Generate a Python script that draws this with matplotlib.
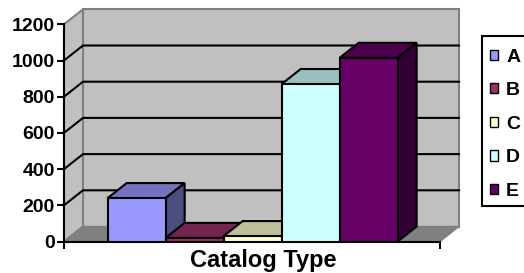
import matplotlib
matplotlib.use('Agg')
import matplotlib.pyplot as plt
from matplotlib.patches import Polygon, Patch, Rectangle

plt.rcParams['font.family'] = ['Liberation Sans', 'DejaVu Sans']
plt.rcParams['font.weight'] = 'bold'

categories = ['A', 'B', 'C', 'D', 'E']
values = [240, 20, 30, 870, 1015]
front_colors = ['#9999FF', '#993366', '#FFFFCC', '#CCFFFF', '#660066']
y_ticks = [0, 200, 400, 600, 800, 1000, 1200]
x_label = 'Catalog Type'


def shade(hex_color, f):
    r, g, b = matplotlib.colors.to_rgb(hex_color)
    return (r * f, g * f, b * f)


W, H = 524, 273
fig = plt.figure(figsize=(W / 100, H / 100), dpi=100)
ax_l, ax_r, ax_t, ax_b = 64, 440, 24.3, 241.5
ax = fig.add_axes([ax_l / W, (H - ax_b) / H, (ax_r - ax_l) / W, (ax_b - ax_t) / H])
ax.patch.set_visible(False)

xmin, xmax = -1.253, 5.23
ymin, ymax = 0, 1200
ax.set_xlim(xmin, xmax)
ax.set_ylim(ymin, ymax)

# depth offset (pixels -> data units)
ddx = 19 * (xmax - xmin) / (ax_r - ax_l)
ddy = 15 * (ymax - ymin) / (ax_b - ax_t)

# walls and floor
back = Polygon([(xmin + ddx, ddy), (xmax + ddx, ddy), (xmax + ddx, ymax + ddy), (xmin + ddx, ymax + ddy)],
               closed=True, facecolor='#C0C0C0', edgecolor='#808080', lw=1.5, clip_on=False, zorder=0)
side = Polygon([(xmin, 0), (xmin + ddx, ddy), (xmin + ddx, ymax + ddy), (xmin, ymax)],
               closed=True, facecolor='#C0C0C0', edgecolor='#808080', lw=1.5, clip_on=False, zorder=0)
floor = Polygon([(xmin, 0), (xmax, 0), (xmax + ddx, ddy), (xmin + ddx, ddy)],
                closed=True, facecolor='#808080', edgecolor='#808080', lw=1, clip_on=False, zorder=1)
for p in (back, side, floor):
    ax.add_patch(p)

for v in y_ticks[1:-1]:
    ax.plot([xmin, xmin + ddx, xmax + ddx], [v, v + ddy, v + ddy], color='black', lw=1.5,
            clip_on=False, zorder=1)

# bars with top and side faces
for i, (v, c) in enumerate(zip(values, front_colors)):
    z = 3 + i
    ax.bar(i, v, width=1.0, color=c, edgecolor='black', lw=1.5, zorder=z + 0.5)
    x0, x1 = i - 0.5, i + 0.5
    top = Polygon([(x0, v), (x1, v), (x1 + ddx, v + ddy), (x0 + ddx, v + ddy)], closed=True,
                  facecolor=shade(c, 0.75), edgecolor='black', lw=1.5, clip_on=False, zorder=z)
    sd = Polygon([(x1, 0), (x1 + ddx, ddy), (x1 + ddx, v + ddy), (x1, v)], closed=True,
                 facecolor=shade(c, 0.5), edgecolor='black', lw=1.5, clip_on=False, zorder=z)
    ax.add_patch(top)
    ax.add_patch(sd)

for s in ('top', 'right'):
    ax.spines[s].set_visible(False)
for s in ('left', 'bottom'):
    ax.spines[s].set_linewidth(1.5)
    ax.spines[s].set_zorder(2)

ax.set_yticks(y_ticks)
ax.set_yticklabels([str(t) for t in y_ticks], fontsize=14, fontweight='bold')
ax.set_xticks([xmin, xmax])
ax.set_xticklabels([])
ax.tick_params(axis='both', length=5, width=1.5, pad=1.5, direction='out')

fig.text(263 / W, (H - 267) / H, x_label, ha='center', va='baseline', fontsize=17, fontweight='bold')

# legend box runs past the right edge, as in the original
fig.patches.append(Rectangle((481.7 / W, 1 - 206 / H), 60 / W, (206 - 35.7) / H,
                             transform=fig.transFigure, facecolor='white', edgecolor='black',
                             lw=1.5, zorder=1))
handles = [Patch(facecolor=c, edgecolor='black', lw=1) for c in front_colors]
leg = fig.legend(handles, categories, loc='upper left', bbox_to_anchor=(478 / W, 1 - 37 / H),
                 borderaxespad=0, handlelength=0.45, handleheight=0.45,
                 handletextpad=0.4, labelspacing=0.85, borderpad=0.6, frameon=False,
                 prop={'weight': 'bold', 'size': 14})
leg.set_zorder(2)

fig.savefig('out.png', dpi=100)
